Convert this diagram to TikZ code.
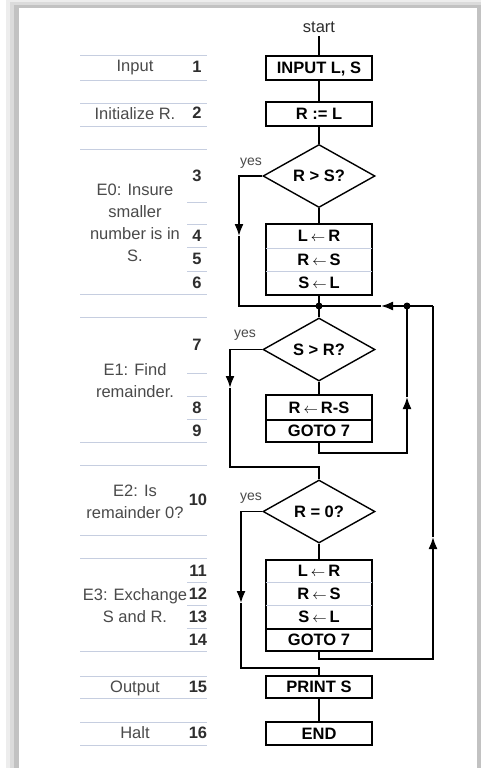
\documentclass[tikz,border=0pt]{standalone}
\usepackage{fontspec}
\setmainfont{Liberation Sans}
\usetikzlibrary{arrows.meta,shapes.geometric}
\definecolor{rulec}{HTML}{C6CEE0}
\definecolor{labc}{HTML}{4A4A4A}
\definecolor{numc}{HTML}{2E2E2E}
\newcommand{\larr}{\hspace{3pt}{\fontsize{14}{15}\selectfont$\leftarrow$}\hspace{3pt}}
\begin{document}
\begin{tikzpicture}[x=1pt,y=-1pt,
  every node/.style={font=\fontsize{16.5}{22}\selectfont},
  lab/.style={text=labc},
  num/.style={text=numc, font=\fontsize{16.5}{22}\selectfont\bfseries},
  yeslab/.style={text=labc, font=\fontsize{14}{16}\selectfont},
  box/.style={draw, line width=2.1pt, minimum width=106pt, inner sep=0pt,
    text height=11.8pt, text depth=0pt, font=\fontsize{16.5}{20}\selectfont\bfseries},
  cell/.style={minimum width=106pt, inner sep=0pt,
    text height=11.8pt, text depth=0pt, font=\fontsize{16.5}{20}\selectfont\bfseries},
  dec/.style={diamond, draw, line width=1.4pt, minimum width=112pt, minimum height=63pt,
    aspect=1.78, inner sep=0pt, text height=11.8pt, text depth=0pt,
    font=\fontsize{16.5}{20}\selectfont\bfseries},
  conn/.style={line width=1.7pt},
  tip/.style={-{Latex[length=12pt,width=9pt]}},
  rl/.style={draw=rulec, line width=1pt}
]
\useasboundingbox (0,0) rectangle (481,768);
% panel with shadow
\fill[white] (0,0) rectangle (481,768);
\fill[black!7] (6,0) rectangle (481,768);
\fill[black!14] (10,2) rectangle (481,768);
\fill[black!24] (14,5) rectangle (481,768);
\fill[white] (19,8) rectangle (477,768);

% table rules
\foreach \yy in {56,80,103,126,149,294,317,442,465,535,558,651,676,698,722,745}
  \draw[rl] (80,\yy) -- (207,\yy);
\foreach \yy in {202,224,247,271,373,396,419,582,605,628}
  \draw[rl] (187,\yy) -- (207,\yy);

% left labels
\node[lab] (lInput) at (135,68) {Input};
\node[lab] (lInit) at (135,114) {Initialize R.};
\node[lab, align=center] (lE0) at (135,223) {E0: Insure\\smaller\\number is in\\S.};
\node[lab, align=center] (lE1) at (135,381) {E1: Find\\remainder.};
\node[lab, align=center] (lE2) at (135,502) {E2: Is\\remainder 0?};
\node[lab, align=center] (lE3) at (135,606) {E3: Exchange\\S and R.};
\node[lab] (lOut) at (135,688) {Output};
\node[lab] (lHalt) at (135,733) {Halt};

% numbers
\node[num] (n1) at (197,67) {1};
\node[num] (n2) at (197,113) {2};
\node[num] (n3) at (197,176) {3};
\node[num] (n4) at (197,236) {4};
\node[num] (n5) at (197,259) {5};
\node[num] (n6) at (197,283) {6};
\node[num] (n7) at (197,345) {7};
\node[num] (n8) at (197,408) {8};
\node[num] (n9) at (197,431) {9};
\node[num] (n10) at (198,500) {10};
\node[num] (n11) at (198,571) {11};
\node[num] (n12) at (198,594) {12};
\node[num] (n13) at (198,617) {13};
\node[num] (n14) at (198,640) {14};
\node[num] (n15) at (198,687) {15};
\node[num] (n16) at (198,733) {16};

% flowchart nodes
\node[text=numc] (start) at (319,27) {start};
\node[box, minimum height=24pt] (inp) at (319,68) {INPUT L, S};
\node[box, minimum height=24pt] (init) at (319,114) {R := L};
\node[dec] (d1) at (319,176) {R > S?};
\node[cell, minimum height=24pt] (b1a) at (319,236) {L\larr R};
\node[cell, minimum height=23pt] (b1b) at (319,259.5) {R\larr S};
\node[cell, minimum height=24pt] (b1c) at (319,283) {S\larr L};
\draw[line width=2.1pt] (b1a.north west) rectangle (b1c.south east);
\draw[rl] (b1a.south west) -- (b1a.south east);
\draw[rl] (b1b.south west) -- (b1b.south east);

\node[dec] (d2) at (319,349.5) {S > R?};
\node[box, minimum height=25pt] (b2a) at (319,407.5) {R\larr R-S};
\node[box, minimum height=22pt] (b2b) at (319,431) {GOTO 7};

\node[dec] (d3) at (319,511.5) {R = 0?};
\node[cell, minimum height=22pt] (b3a) at (319,571) {L\larr R};
\node[cell, minimum height=23pt] (b3b) at (319,593.5) {R\larr S};
\node[cell, minimum height=24pt] (b3c) at (319,617) {S\larr L};
\draw[line width=2.1pt] (b3a.north west) rectangle (b3c.south east);
\draw[rl] (b3a.south west) -- (b3a.south east);
\draw[rl] (b3b.south west) -- (b3b.south east);
\node[box, minimum height=22pt] (b3d) at (319,640) {GOTO 7};

\node[box, minimum height=22pt] (prt) at (319,687) {PRINT S};
\node[box, minimum height=23pt] (fin) at (319,733.5) {END};

\node[yeslab] (yes1) at (251,163) {yes};
\node[yeslab] (yes2) at (245,335) {yes};
\node[yeslab] (yes3) at (251,498) {yes};

% coordinates
\coordinate (j1) at (319,306);
\coordinate (j2) at (407,306);
\coordinate (c1) at (433,306);
\coordinate (ar) at (381,306);
\coordinate (y1a) at (239,236);
\coordinate (y2a) at (230,388);
\coordinate (y2b) at (230,467);
\coordinate (k1) at (407,453);
\coordinate (l2up) at (407,397);
\coordinate (y3a) at (241,603);
\coordinate (y3b) at (241,668);
\coordinate (k3) at (433,659);
\coordinate (l3up) at (433,537);

% connectors
\draw[conn] (start) -- (inp);
\draw[conn] (inp) -- (init);
\draw[conn] (init) -- (d1);
\draw[conn] (d1) -- (b1a);
\draw[conn,tip] (d1.west) -| (y1a);
\draw[conn] (y1a) |- (j1);
\draw[conn] (b1c.south) -- (j1);
\draw[conn] (j1) -- (d2.north);
\draw[conn] (c1) -- (j2);
\draw[conn,tip] (j2) -- (ar);
\draw[conn] (ar) -- (j1);
\fill (j1) circle (3.5pt);
\fill (j2) circle (3.5pt);

\draw[conn] (d2) -- (b2a);
\draw[conn,tip] (d2.west) -| (y2a);
\draw[conn] (y2a) -- (y2b) -| (d3.north);
\draw[conn,tip] (b2b.south) |- (k1) -- (l2up);
\draw[conn] (l2up) -- (j2);

\draw[conn] (d3) -- (b3a);
\draw[conn,tip] (d3.west) -| (y3a);
\draw[conn] (y3a) -- (y3b) -| (prt.north);
\draw[conn,tip] (b3d.south) |- (k3) -- (l3up);
\draw[conn] (l3up) -- (c1);

\draw[conn] (prt) -- (fin);
\end{tikzpicture}
\end{document}
